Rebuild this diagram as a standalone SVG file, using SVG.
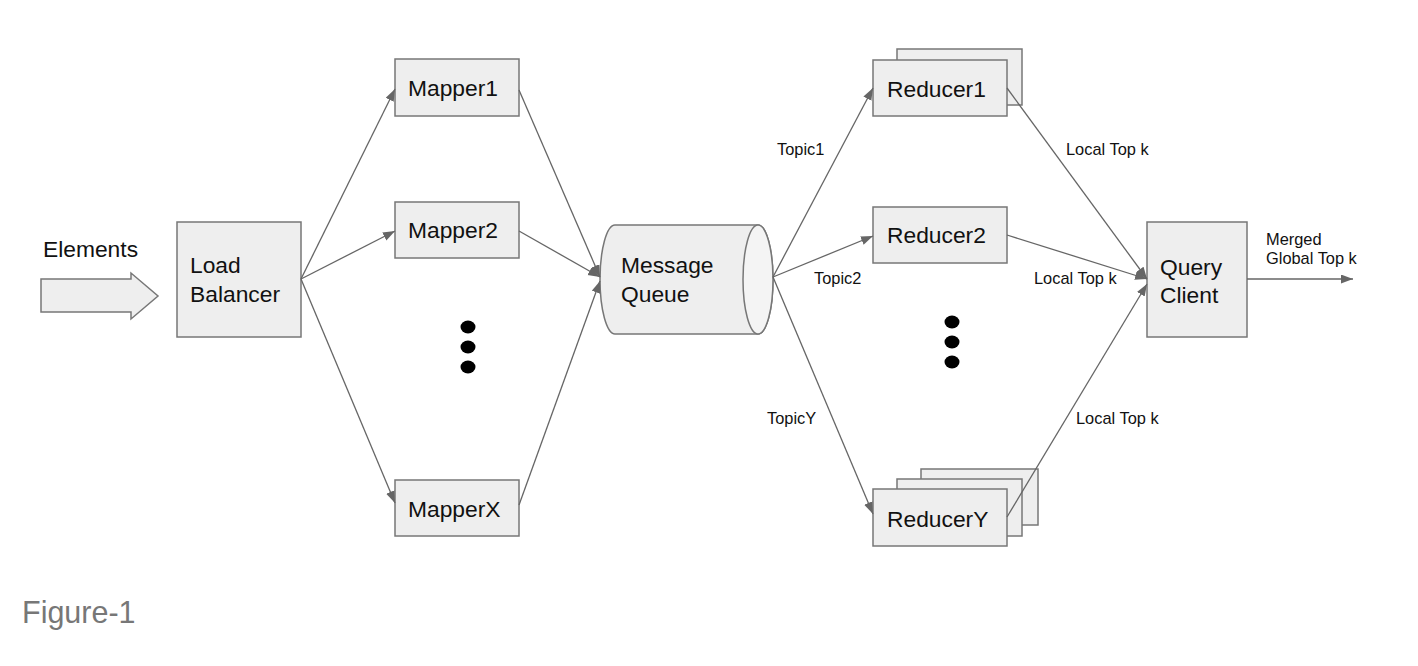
<svg xmlns="http://www.w3.org/2000/svg" width="1418" height="666" viewBox="0 0 1418 666">
<style>
.box{fill:#eeeeee;stroke:#777777;stroke-width:1.5}
.lbl{font-family:"Liberation Sans",Arial,sans-serif;font-size:22.8px;fill:#111111}
.sm{font-family:"Liberation Sans",Arial,sans-serif;font-size:16.4px;fill:#111111}
.edge{stroke:#666666;stroke-width:1.3;fill:none;marker-end:url(#ah)}
.dot{fill:#000000}
</style>
<defs>
<marker id="ah" markerUnits="userSpaceOnUse" markerWidth="13" markerHeight="10" refX="12" refY="4.5" orient="auto">
<path d="M0,0 L12,4.5 L0,9 Z" fill="#666666"/>
</marker>
</defs>
<rect width="1418" height="666" fill="#ffffff"/>

<g id="elements">
<text class="lbl" x="43" y="257">Elements</text>
<polygon class="box" points="41,279 131,279 131,273 158,296 131,319 131,312 41,312"/>
</g>

<g id="load-balancer">
<rect class="box" x="177" y="222" width="124" height="115"/>
<text class="lbl" x="190" y="273">Load</text>
<text class="lbl" x="190" y="302">Balancer</text>
</g>

<g id="mapper1">
<rect class="box" x="395" y="59" width="124" height="57"/>
<text class="lbl" x="408" y="96">Mapper1</text>
</g>
<g id="mapper2">
<rect class="box" x="395" y="202" width="124" height="56"/>
<text class="lbl" x="408" y="238">Mapper2</text>
</g>
<g id="mapper-dots">
<ellipse class="dot" cx="468" cy="327" rx="7.5" ry="6.5"/>
<ellipse class="dot" cx="468" cy="347" rx="7.5" ry="6.5"/>
<ellipse class="dot" cx="468" cy="367" rx="7.5" ry="6.5"/>
</g>
<g id="mapperX">
<rect class="box" x="395" y="480" width="124" height="56"/>
<text class="lbl" x="408" y="517">MapperX</text>
</g>

<g id="message-queue">
<path class="box" d="M615,225 L758,225 A15,54.5 0 0 1 758,334 L615,334 A15,54.5 0 0 1 615,225 Z"/>
<ellipse cx="758" cy="279.5" rx="15" ry="54.5" fill="#f4f4f4" stroke="#777777" stroke-width="1.5"/>
<text class="lbl" x="621" y="273">Message</text>
<text class="lbl" x="621" y="302">Queue</text>
</g>

<g id="reducer1">
<rect class="box" x="897" y="49" width="125" height="56"/>
<rect class="box" x="873" y="60" width="134" height="56"/>
<text class="lbl" x="887" y="97">Reducer1</text>
</g>
<g id="reducer2">
<rect class="box" x="873" y="207" width="134" height="56"/>
<text class="lbl" x="887" y="243">Reducer2</text>
</g>
<g id="reducer-dots">
<ellipse class="dot" cx="952" cy="322" rx="7.5" ry="6.5"/>
<ellipse class="dot" cx="952" cy="342" rx="7.5" ry="6.5"/>
<ellipse class="dot" cx="952" cy="362" rx="7.5" ry="6.5"/>
</g>
<g id="reducerY">
<rect class="box" x="921" y="469" width="117" height="56"/>
<rect class="box" x="897" y="479" width="125" height="57"/>
<rect class="box" x="873" y="489" width="134" height="57"/>
<text class="lbl" x="887" y="527">ReducerY</text>
</g>

<g id="query-client">
<rect class="box" x="1147" y="222" width="100" height="115"/>
<text class="lbl" x="1160" y="275">Query</text>
<text class="lbl" x="1160" y="303">Client</text>
</g>

<g id="connectors">
<line class="edge" x1="301" y1="279" x2="395" y2="89"/>
<line class="edge" x1="301" y1="279" x2="395" y2="231"/>
<line class="edge" x1="301" y1="279" x2="395" y2="503"/>
<line class="edge" x1="519" y1="90" x2="600" y2="277"/>
<line class="edge" x1="519" y1="231" x2="600" y2="277"/>
<line class="edge" x1="519" y1="505" x2="600" y2="281"/>
<line class="edge" x1="773" y1="277" x2="873" y2="88"/>
<line class="edge" x1="773" y1="277" x2="873" y2="236"/>
<line class="edge" x1="773" y1="277" x2="873" y2="514"/>
<line class="edge" x1="1007" y1="88" x2="1147" y2="279"/>
<line class="edge" x1="1007" y1="235" x2="1147" y2="279"/>
<line class="edge" x1="1007" y1="517" x2="1147" y2="284"/>
<line class="edge" x1="1247" y1="279" x2="1353" y2="279"/>
<text class="sm" x="777" y="155">Topic1</text>
<text class="sm" x="814" y="284">Topic2</text>
<text class="sm" x="767" y="424">TopicY</text>
<text class="sm" x="1066" y="155">Local Top k</text>
<text class="sm" x="1034" y="284">Local Top k</text>
<text class="sm" x="1076" y="424">Local Top k</text>
<text class="sm" x="1266" y="245">Merged</text>
<text class="sm" x="1266" y="264">Global Top k</text>
</g>

<text x="22" y="623" font-family="'Liberation Sans',Arial,sans-serif" font-size="30.5" fill="#777777">Figure-1</text>
</svg>
